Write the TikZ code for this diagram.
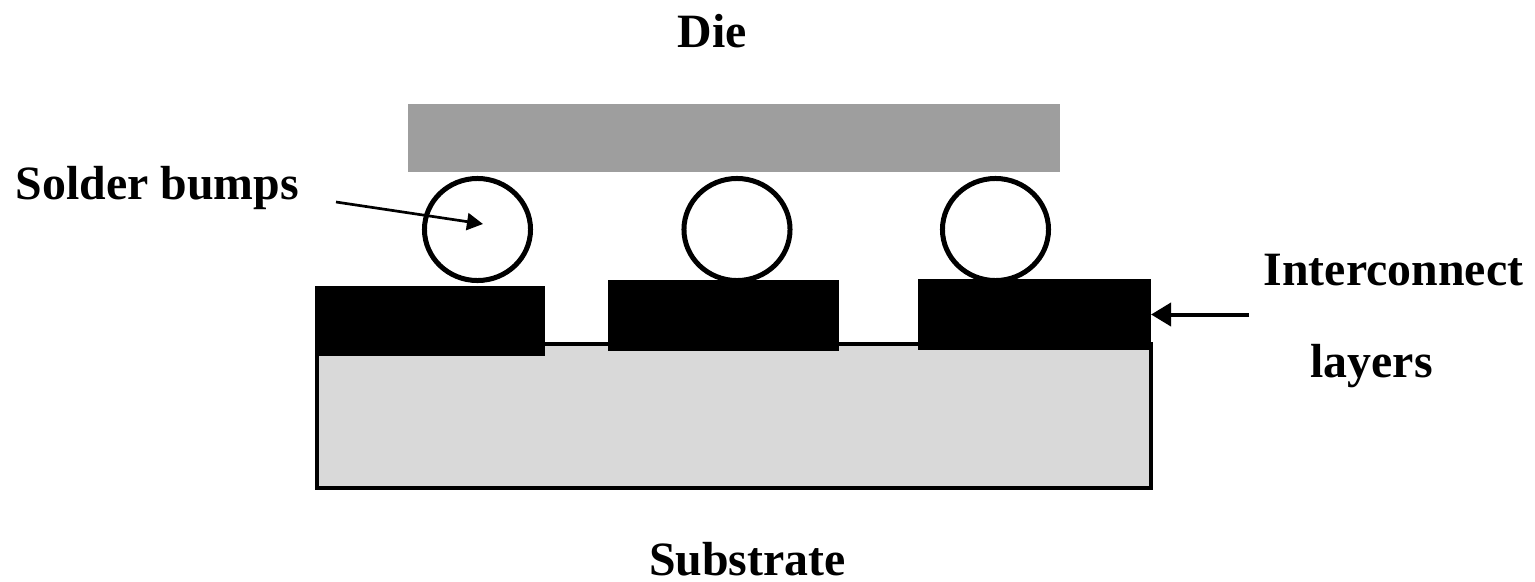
\documentclass[tikz,border=0pt]{standalone}
\usepackage{fontspec}
\setmainfont{Liberation Serif}
\usetikzlibrary{arrows.meta,shapes.geometric}
\definecolor{diegray}{gray}{.62}
\definecolor{subgray}{gray}{.85}
\tikzstyle{label} = [font=\fontsize{13.6pt}{16pt}\selectfont\bfseries, anchor=base, inner sep=0pt]
\tikzstyle{die} = [rectangle, fill=diegray, inner sep=0pt, outer sep=0pt, minimum width=6.52cm, minimum height=.68cm]
\tikzstyle{bump} = [ellipse, draw=black, fill=white, line width=.05cm, inner sep=0pt, outer sep=0pt, minimum width=1.06cm, minimum height=1.02cm]
\tikzstyle{pad} = [rectangle, fill=black, inner sep=0pt, outer sep=0pt, minimum height=.7cm]
\tikzstyle{substrate} = [rectangle, draw=black, fill=subgray, line width=.04cm, inner sep=0pt, outer sep=0pt, minimum width=8.34cm, minimum height=1.44cm]
\tikzstyle{thinpointer} = [-{Triangle[length=.16cm,width=.17cm]}, line width=.027cm]
\tikzstyle{widepointer} = [-{Triangle[length=.2cm,width=.23cm]}, line width=.04cm]
\begin{document}
\begin{tikzpicture}[x=.01cm, y=-.01cm]%
	\useasboundingbox (0,0) rectangle (1535,581);%
	\node [substrate] (sub) at (734,416) {};%
	\node [die] (die) at (734,138) {};%
	\node [bump] (bumpa) at (477.5,229.5) {};%
	\node [bump] (bumpb) at (737,229.5) {};%
	\node [bump] (bumpc) at (995.5,229.5) {};%
	\node [pad, minimum width=2.30cm] (pada) at (430,321) {};%
	\node [pad, minimum width=2.31cm] (padb) at (723.5,315.5) {};%
	\node [pad, minimum width=2.33cm] (padc) at (1034.5,314.5) {};%
	\node [label] (dielabel) at (712.5,47) {Die};%
	\node [label] (solderlabel) at (157.5,199) {Solder bumps};%
	\node [label] (interlabel) at (1393.5,285) {Interconnect};%
	\node [label] (layerlabel) at (1371.5,377) {layers};%
	\node [label] (sublabel) at (747.5,575) {Substrate};%
	\coordinate (soldertail) at (336,202);%
	\coordinate (soldertip) at (483,224);%
	\coordinate (intertail) at (1249,314.5);%
	\draw [thinpointer] (soldertail) -- (soldertip);%
	\draw [widepointer] (intertail) -- (padc.east);%
\end{tikzpicture}
\end{document}
